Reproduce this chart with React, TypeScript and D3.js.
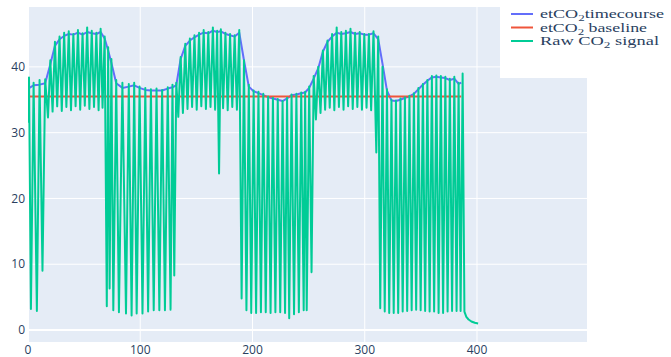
import React, { useRef, useEffect } from "react";
import * as d3 from "d3";

// raw capnograph trace, alternating trough / peak samples
const rawTime = [
  0.0, 0.9, 2.6, 5.0, 7.9, 10.3, 12.9, 15.3, 17.8,
  19.9, 21.9, 24.0, 26.0, 28.1, 30.1, 32.2, 34.2, 36.3, 38.3, 40.4, 42.4, 44.5, 46.5,
  48.6, 50.6, 52.7, 54.7, 56.8, 58.8, 60.9, 62.9, 64.7, 66.4, 68.3, 70.2,
  71.4, 72.7, 74.3, 76.0, 78.6, 81.0, 84.1, 87.3, 89.8, 92.3, 94.6, 96.8, 99.4, 102.0,
  104.5, 107.0, 109.5, 112.0, 114.5, 117.0, 119.5, 122.0, 124.5, 127.0, 128.7, 130.3,
  132.1, 133.9,
  136.0, 138.0, 140.1, 142.1, 144.2, 146.2, 148.3, 150.3, 152.4, 154.4, 156.5, 158.5,
  160.6, 162.6, 164.7, 166.7, 168.5, 170.2, 171.8, 173.8, 175.9, 177.9, 180.0, 182.0,
  184.1, 186.1, 188.2, 190.3,
  192.4, 194.6, 196.7, 198.9, 201.0, 203.2, 205.3, 207.5, 209.6, 211.8, 213.9, 216.1,
  218.2, 220.4, 222.5, 224.7, 226.8, 229.0, 230.8, 232.7, 234.8, 237.0, 239.1, 241.3,
  243.4, 245.6, 246.9, 248.3, 250.5, 252.6, 254.5, 256.5,
  258.6, 260.6, 262.7, 264.7, 266.8, 268.8, 270.9, 272.9, 275.0, 277.0, 279.1, 281.1,
  283.2, 285.2, 287.3, 289.3, 291.4, 293.4, 295.5, 297.5, 299.6, 301.6, 303.7, 305.7,
  307.8, 310.3, 312.0, 313.8,
  315.8, 317.8, 319.8, 321.8, 323.8, 325.8, 327.8, 329.8, 331.8, 333.8, 335.8, 337.8,
  339.8, 341.8, 343.8, 345.8, 347.8, 349.8, 351.8, 353.8, 355.8, 357.8, 359.8, 361.8,
  363.8, 365.8, 367.8, 369.8, 371.8, 373.8, 375.8, 377.8, 379.8, 381.8, 383.6, 385.4,
  387.2, 388.8, 390.5, 392.5, 395.0, 398.0, 401.0,
];
const rawValue = [
  31.5, 38.4, 3.2, 37.6, 2.9, 38.0, 9.0, 38.1, 32.3,
  41.0, 33.2, 43.8, 34.0, 44.6, 33.3, 45.2, 33.9, 45.4, 33.4, 45.0, 34.0, 45.6, 33.5,
  45.1, 34.1, 46.0, 33.6, 45.5, 33.9, 45.2, 33.4, 45.8, 33.8, 44.6, 3.6,
  43.0, 6.3, 41.2, 3.0, 38.0, 2.7, 37.6, 2.5, 37.4, 2.2, 37.6, 2.5, 37.0, 2.5,
  36.8, 2.8, 36.6, 3.0, 36.7, 3.0, 36.5, 3.0, 36.9, 3.1, 37.3, 8.3,
  37.6, 32.4,
  41.5, 33.0, 43.5, 33.6, 44.3, 33.9, 44.8, 33.5, 45.2, 34.0, 45.6, 33.6,
  45.3, 33.9, 46.0, 33.5, 45.5, 23.8, 45.7, 33.7, 45.2, 33.4, 45.0, 33.9,
  44.8, 33.5, 45.6, 4.8,
  41.0, 3.0, 37.3, 2.6, 36.4, 2.6, 36.2, 2.7, 35.9, 2.7, 35.5, 2.6,
  35.3, 2.7, 35.1, 2.7, 34.8, 2.6, 35.3, 1.8, 35.8, 2.4, 35.9, 2.7,
  36.1, 3.0, 36.2, 3.0, 37.0, 8.8, 38.6, 32.0,
  40.0, 33.0, 42.5, 33.5, 44.0, 33.8, 45.0, 33.4, 46.0, 33.9, 45.3, 33.5,
  45.5, 34.0, 45.8, 33.6, 45.2, 33.9, 45.3, 33.5, 45.0, 33.8, 45.0, 33.4,
  45.4, 27.0, 44.6, 3.3,
  40.0, 2.8, 36.6, 2.6, 35.0, 2.6, 34.9, 2.6, 35.2, 2.8, 35.4, 2.9,
  35.6, 3.0, 36.0, 3.1, 36.8, 3.0, 37.4, 2.9, 38.0, 2.8, 38.6, 2.8,
  38.7, 2.6, 38.6, 2.6, 38.5, 2.8, 38.2, 2.9, 38.5, 2.9, 37.6, 2.9,
  39.0, 2.8, 2.0, 1.6, 1.3, 1.1, 1.0,
];

// end-tidal timecourse
const etTime = [
  1.2, 5.0, 10.3, 15.3, 19.9, 24.0, 28.1, 32.2, 36.3, 40.4, 44.5, 48.6, 52.7, 56.8,
  60.9, 64.7, 68.3, 71.4, 74.3, 78.6, 84.1, 89.8, 94.6, 99.4, 104.5, 109.5, 114.5,
  119.5, 124.5, 128.7, 132.1, 136.0, 140.1, 144.2, 148.3, 152.4, 156.5, 160.6, 164.7,
  168.5, 171.8, 175.9, 180.0, 184.1, 188.2, 192.4, 196.7, 201.0, 205.3, 209.6, 213.9,
  218.2, 222.5, 226.8, 230.8, 234.8, 239.1, 243.4, 246.9, 250.5, 254.5, 258.6, 262.7,
  266.8, 270.9, 275.0, 279.1, 283.2, 287.3, 291.4, 295.5, 299.6, 303.7, 307.8, 312.0,
  315.8, 319.8, 323.8, 327.8, 331.8, 335.8, 339.8, 343.8, 347.8, 351.8, 355.8, 359.8,
  363.8, 367.8, 371.8, 375.8, 379.8, 383.6, 386.0,
];
const etValue = [
  36.8, 37.2, 37.3, 37.5, 40.4, 43.2, 44.2, 44.7, 45.0, 44.9, 45.2, 44.9, 45.3, 45.1,
  45.0, 45.3, 44.3, 42.5, 40.6, 37.5, 36.8, 37.0, 37.2, 36.8, 36.5, 36.4, 36.4,
  36.4, 36.7, 36.9, 37.2, 41.2, 43.2, 44.0, 44.5, 44.9, 45.2, 45.1, 45.5,
  45.3, 45.4, 45.0, 44.8, 44.6, 45.2, 41.0, 37.0, 36.3, 36.0, 35.7, 35.4,
  35.2, 35.0, 34.8, 35.2, 35.7, 35.8, 36.0, 36.1, 36.8, 38.2, 39.8, 42.3,
  43.8, 44.6, 45.2, 45.0, 45.1, 45.3, 45.0, 45.1, 44.9, 44.9, 45.1, 44.2,
  40.5, 36.4, 34.9, 34.8, 35.0, 35.3, 35.5, 35.9, 36.6, 37.3, 37.9, 38.4,
  38.5, 38.4, 38.3, 38.0, 38.2, 37.4, 37.6,
];

const baselineTime = [1.2, 386];
const baselineValue = [35.5, 35.5];

const xTicks = [0, 100, 200, 300, 400];
const yTicks = [0, 10, 20, 30, 40];

const seriesNames = [
  { pre: "etCO", sub: "2", post: "timecourse", width: 124 },
  { pre: "etCO", sub: "2", post: " baseline", width: 107 },
  { pre: "Raw CO", sub: "2", post: " signal", width: 119 },
];
const seriesColors = ["#636efa", "#ef553b", "#00cc96"];

export default function App() {
  const ref = useRef<SVGSVGElement>(null);

  useEffect(() => {
    if (!ref.current) return;
    const svg = d3.select(ref.current);
    svg.selectAll("*").remove();

    const w = 671;
    const h = 357;
    const plot = { left: 28, right: 587, top: 7, bottom: 342 };

    const x = d3.scaleLinear().domain([0, 498]).range([plot.left, plot.right]);
    const y = d3.scaleLinear().domain([-1.82, 49.1]).range([plot.bottom, plot.top]);

    svg.append("rect")
      .attr("width", w)
      .attr("height", h)
      .attr("fill", "#fff");

    svg.append("rect")
      .attr("x", plot.left)
      .attr("y", plot.top)
      .attr("width", plot.right - plot.left)
      .attr("height", plot.bottom - plot.top)
      .attr("fill", "#e5ecf6");

    // grid
    svg.append("g")
      .selectAll("line")
      .data(xTicks)
      .join("line")
      .attr("x1", d => x(d))
      .attr("x2", d => x(d))
      .attr("y1", plot.top)
      .attr("y2", plot.bottom)
      .attr("stroke", "#fff")
      .attr("stroke-width", d => (d === 0 ? 2 : 1));
    svg.append("g")
      .selectAll("line")
      .data(yTicks)
      .join("line")
      .attr("x1", plot.left)
      .attr("x2", plot.right)
      .attr("y1", d => y(d))
      .attr("y2", d => y(d))
      .attr("stroke", "#fff")
      .attr("stroke-width", d => (d === 0 ? 2 : 1));

    svg.append("clipPath")
      .attr("id", "plot-clip")
      .append("rect")
      .attr("x", plot.left)
      .attr("y", plot.top)
      .attr("width", plot.right - plot.left)
      .attr("height", plot.bottom - plot.top);

    const line = d3.line<[number, number]>()
      .x(d => x(d[0]))
      .y(d => y(d[1]));

    const traces: [number, number][][] = [
      etTime.map((t, i) => [t, etValue[i]]),
      baselineTime.map((t, i) => [t, baselineValue[i]]),
      rawTime.map((t, i) => [t, rawValue[i]]),
    ];

    const g = svg.append("g").attr("clip-path", "url(#plot-clip)");
    traces.forEach((pts, i) => {
      g.append("path")
        .datum(pts)
        .attr("fill", "none")
        .attr("stroke", seriesColors[i])
        .attr("stroke-width", 2)
        .attr("stroke-linejoin", "round")
        .attr("d", line);
    });

    // tick labels
    svg.append("g")
      .selectAll("text")
      .data(xTicks)
      .join("text")
      .attr("x", d => x(d))
      .attr("y", 354)
      .attr("text-anchor", "middle")
      .attr("font-family", "'Open Sans', sans-serif")
      .attr("font-size", 12)
      .attr("fill", "#2a3f5f")
      .text(d => d);
    svg.append("g")
      .selectAll("text")
      .data(yTicks)
      .join("text")
      .attr("x", 25)
      .attr("y", d => y(d) + 4.2)
      .attr("text-anchor", "end")
      .attr("font-family", "'Open Sans', sans-serif")
      .attr("font-size", 12)
      .attr("fill", "#2a3f5f")
      .text(d => d);

    // legend
    const lg = svg.append("g");
    lg.append("rect")
      .attr("x", 500)
      .attr("y", 0)
      .attr("width", w - 500)
      .attr("height", 78)
      .attr("fill", "#fff");
    seriesNames.forEach((s, i) => {
      const cy = 14 + i * 13.5;
      lg.append("line")
        .attr("x1", 511)
        .attr("x2", 533)
        .attr("y1", cy)
        .attr("y2", cy)
        .attr("stroke", seriesColors[i])
        .attr("stroke-width", 2);
      const t = lg.append("text")
        .attr("x", 540)
        .attr("y", cy + 4)
        .attr("font-family", "'Liberation Serif', serif")
        .attr("font-size", 12.5)
        .attr("fill", "#2a3f5f")
        .attr("textLength", s.width)
        .attr("lengthAdjust", "spacingAndGlyphs");
      t.append("tspan").text(s.pre);
      t.append("tspan").attr("font-size", 9).attr("dy", 3).text(s.sub);
      t.append("tspan").attr("dy", -3).text(s.post);
    });
  }, []);

  return (
    <svg
      ref={ref}
      width={671}
      height={357}
      style={{ position: "absolute", left: 0, top: 0 }}
    />
  );
}
